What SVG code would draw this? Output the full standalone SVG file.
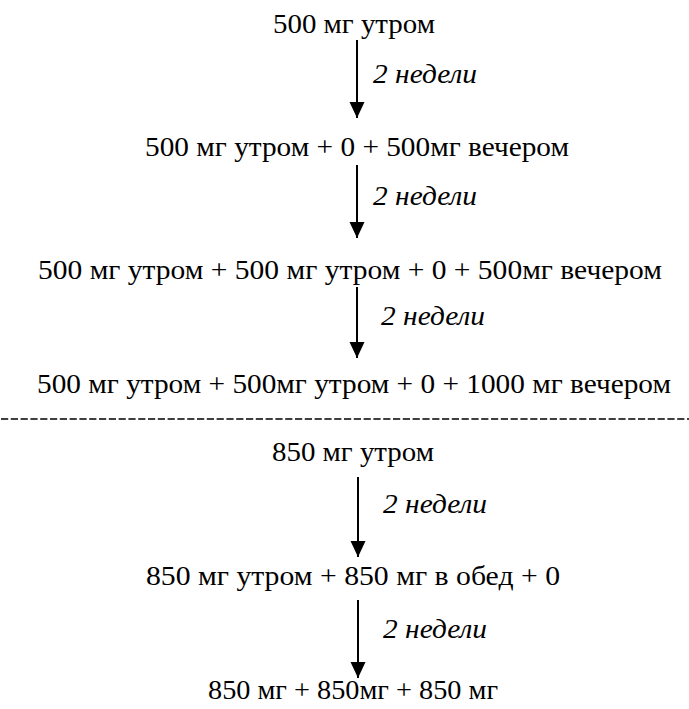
<svg xmlns="http://www.w3.org/2000/svg" width="689" height="709" viewBox="0 0 689 709">
<defs>
<marker id="ah" markerWidth="16" markerHeight="16" viewBox="0 0 16 16" refX="16" refY="8" orient="auto" markerUnits="userSpaceOnUse">
<path d="M0,0.5 L16,8 L0,15.5 Z" fill="#000"/>
</marker>
<style>
.t{font-family:"Liberation Serif","Times New Roman",serif;font-size:27px;fill:#000;text-anchor:middle}
.l{font-family:"Liberation Serif","Times New Roman",serif;font-size:27px;font-style:italic;fill:#000}
.c{stroke:#000;stroke-width:2;fill:none;marker-end:url(#ah)}
</style>
</defs>
<rect width="689" height="709" fill="#fff"/>
<g id="n1"><text class="t" x="354" y="33" textLength="162" lengthAdjust="spacingAndGlyphs">500 мг утром</text></g>
<g id="n2"><text class="t" x="357" y="156" textLength="424" lengthAdjust="spacingAndGlyphs">500 мг утром + 0 + 500мг вечером</text></g>
<g id="n3"><text class="t" x="350" y="279" textLength="624" lengthAdjust="spacingAndGlyphs">500 мг утром + 500 мг утром + 0 + 500мг вечером</text></g>
<g id="n4"><text class="t" x="354" y="393" textLength="634" lengthAdjust="spacingAndGlyphs">500 мг утром + 500мг утром + 0 + 1000 мг вечером</text></g>
<g id="sep"><line x1="1" y1="419" x2="689" y2="419" stroke="#000" stroke-width="1.6" stroke-dasharray="7.2 2.6"/></g>
<g id="n5"><text class="t" x="353" y="461" textLength="162" lengthAdjust="spacingAndGlyphs">850 мг утром</text></g>
<g id="n6"><text class="t" x="353" y="585" textLength="414" lengthAdjust="spacingAndGlyphs">850 мг утром + 850 мг в обед + 0</text></g>
<g id="n7"><text class="t" x="353" y="699" textLength="290" lengthAdjust="spacingAndGlyphs">850 мг + 850мг + 850 мг</text></g>
<g id="connectors">
<line class="c" x1="357" y1="40" x2="357" y2="118"/>
<line class="c" x1="357" y1="165" x2="357" y2="238"/>
<line class="c" x1="357" y1="287" x2="357" y2="358"/>
<line class="c" x1="358" y1="477" x2="358" y2="557"/>
<line class="c" x1="358" y1="600" x2="358" y2="678"/>
<text class="l" x="373" y="83" textLength="104" lengthAdjust="spacingAndGlyphs">2 недели</text>
<text class="l" x="373" y="205" textLength="104" lengthAdjust="spacingAndGlyphs">2 недели</text>
<text class="l" x="381" y="325" textLength="104" lengthAdjust="spacingAndGlyphs">2 недели</text>
<text class="l" x="383" y="513" textLength="104" lengthAdjust="spacingAndGlyphs">2 недели</text>
<text class="l" x="383" y="638" textLength="104" lengthAdjust="spacingAndGlyphs">2 недели</text>
</g>
</svg>
